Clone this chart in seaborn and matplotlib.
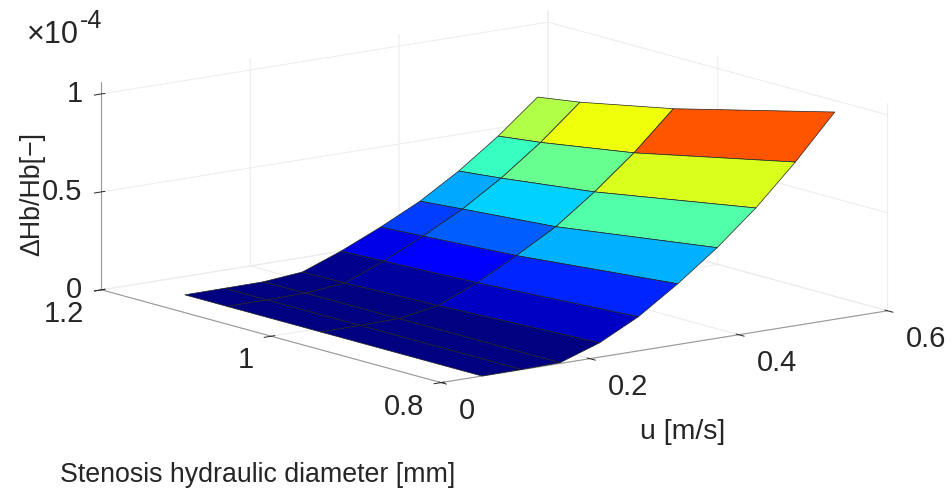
import numpy as np
import matplotlib
matplotlib.use("Agg")
import matplotlib.pyplot as plt
import seaborn as sns
from mpl_toolkits.mplot3d import proj3d

# flow speed [m/s], stenosis diameter [mm]
speed = [0.055, 0.108, 0.160, 0.213, 0.265, 0.318, 0.371, 0.423, 0.476, 0.529]
diameter = [0.80, 0.99, 1.10, 1.15]

# dHb/Hb in units of 1e-4, one list per diameter
dhb_080 = [0.0, 0.001, 0.004, 0.073, 0.174, 0.310, 0.462, 0.633, 0.835, 1.058]
dhb_099 = [0.0, 0.001, 0.004, 0.038, 0.123, 0.229, 0.344, 0.490, 0.657, 0.850]
dhb_110 = [0.0, 0.001, 0.004, 0.023, 0.103, 0.198, 0.304, 0.430, 0.580, 0.753]
dhb_115 = [0.0, 0.001, 0.002, 0.020, 0.095, 0.185, 0.285, 0.407, 0.553, 0.720]

speed_ticks = [0, 0.2, 0.4, 0.6]
speed_labels = ["0", "0.2", "0.4", "0.6"]
diameter_ticks = [0.8, 1.0, 1.2]
diameter_labels = ["0.8", "1", "1.2"]
dhb_ticks = [0, 0.5, 1]
dhb_labels = ["0", "0.5", "1"]

TEXT = "#262626"
TICK_SIZE = 21


def tick_label(ax, x, y, z, label, dx, dy, ha):
    # tick labels sit where matlab puts them, not where mplot3d would
    px, py, _ = proj3d.proj_transform(x, y, z, ax.get_proj())
    ax.annotate(label, xy=(px, py), xycoords="data", xytext=(dx, dy), textcoords="offset pixels",
                fontsize=TICK_SIZE, color=TEXT, ha=ha, va="center")


def main():
    sns.set_theme(style="white", font="Liberation Sans")

    fig = plt.figure(figsize=(9.52, 4.91), dpi=100)
    side = 952
    cx = (494.5 - 0.0135 * side) / 952
    cy = (294.5 - 0.0135 * side) / 491
    ax = fig.add_axes([cx - 0.5, cy - side / 491 / 2, 1, side / 491], projection="3d")
    ax.patch.set_alpha(0)
    ax.set_proj_type("ortho")
    ax.view_init(elev=12.1, azim=-127.5)
    ax.set_box_aspect((563, 558, 212.4), zoom=796.5 / side)

    U, D = np.meshgrid(speed, diameter, indexing="ij")
    Z = np.column_stack([dhb_080, dhb_099, dhb_110, dhb_115])
    cmap = matplotlib.colormaps["jet"]
    ax.plot_surface(U, D, Z, facecolors=cmap((Z - 0.01) / 1.01), rstride=1, cstride=1,
                    shade=False, edgecolor="#222222", linewidth=0.5)

    ax.set_xlim(0, 0.6, view_margin=0)
    ax.set_ylim(0.8, 1.2, view_margin=0)
    ax.set_zlim(0, 1.06, view_margin=0)
    ax.set_xticks(speed_ticks, [""] * len(speed_ticks))
    ax.set_yticks(diameter_ticks, [""] * len(diameter_ticks))
    ax.set_zticks(dhb_ticks, [""] * len(dhb_ticks))

    for axis in [ax.xaxis, ax.yaxis, ax.zaxis]:
        axis.set_pane_color((1, 1, 1, 0))
        axis.pane.set_edgecolor("none")
        axis.line.set_color("#999999")
        axis.line.set_linewidth(0.8)
        axis._axinfo["grid"].update(color="#ebebeb", linewidth=0.7)
        axis._axinfo["tick"].update(color="#777777", linewidth={True: 0.7, False: 0.5})
    ax.zaxis.set_ticks_position("upper")

    for tick, label in zip(speed_ticks, speed_labels):
        tick_label(ax, tick, 0.8, 0, label, 18, -28, "left")
    for tick, label in zip(diameter_ticks, diameter_labels):
        tick_label(ax, 0, tick, 0, label, -17, -24, "right")
    for tick, label in zip(dhb_ticks, dhb_labels):
        tick_label(ax, 0, 1.2, tick, label, -19, 0, "right")

    fig.text(683 / 952, 1 - 432 / 491, "u [m/s]", fontsize=20.5, color=TEXT,
             ha="center", va="center")
    fig.text(258 / 952, 1 - 475 / 491, "Stenosis hydraulic diameter [mm]", fontsize=19.3,
             color=TEXT, ha="center", va="center")
    fig.text(32 / 952, 1 - 194 / 491, "\u0394Hb/Hb[\u2212]", fontsize=19.3, color=TEXT,
             rotation=90, ha="center", va="center")
    fig.text(27 / 952, 1 - 43 / 491, "\u00d710", fontsize=22, color=TEXT,
             ha="left", va="baseline")
    fig.text(80 / 952, 1 - 28 / 491, "-4", fontsize=18, color=TEXT, ha="left", va="baseline")

    fig.savefig("out.png", dpi=100)


if __name__ == "__main__":
    main()
